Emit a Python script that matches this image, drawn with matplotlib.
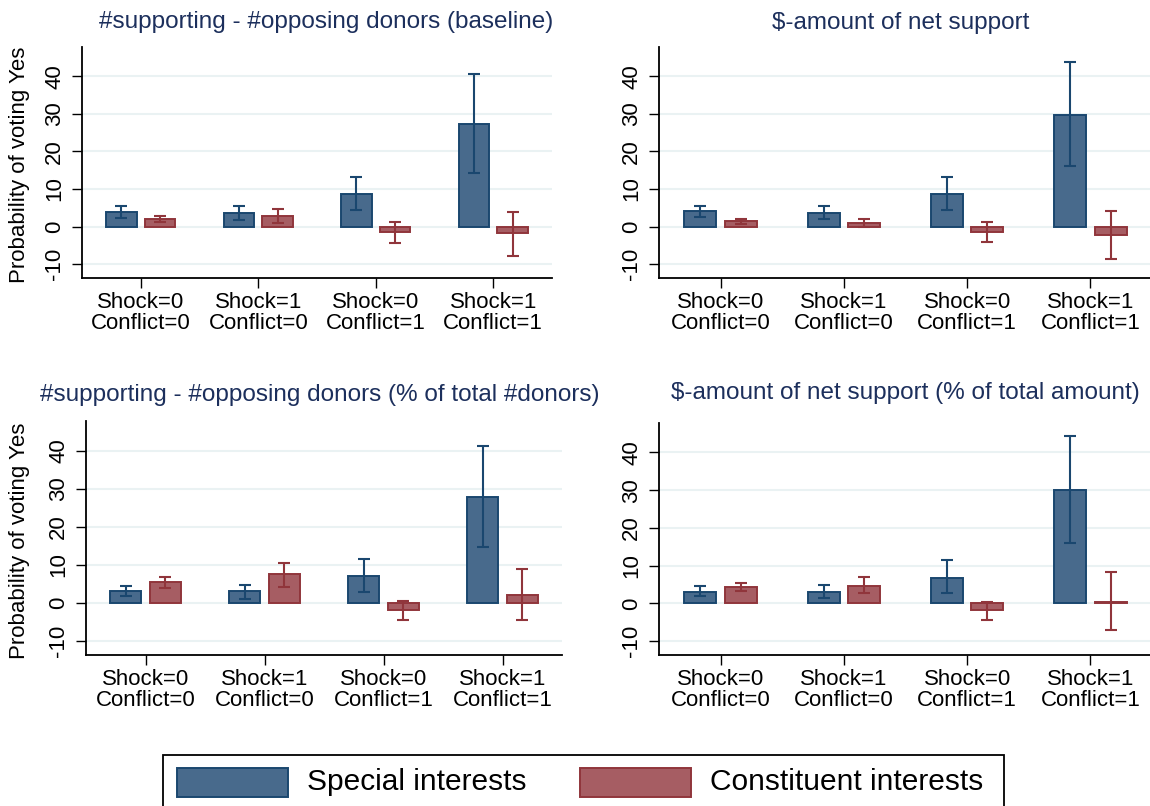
import matplotlib
matplotlib.use("Agg")
import matplotlib.pyplot as plt
from matplotlib.patches import Rectangle
import numpy as np

plt.rcParams['font.family'] = ['Liberation Sans', 'DejaVu Sans']

categories = ["Shock=0\nConflict=0", "Shock=1\nConflict=0", "Shock=0\nConflict=1", "Shock=1\nConflict=1"]
titles = ["#supporting - #opposing donors (baseline)",
          "$-amount of net support",
          "#supporting - #opposing donors (% of total #donors)",
          "$-amount of net support (% of total amount)"]
series_names = ["Special interests", "Constituent interests"]
yticks = [-10, 0, 10, 20, 30, 40]
ylabel = "Probability of voting Yes"

# Panel 1: baseline
special_1 = [3.8, 3.5, 8.6, 27.2]
special_1_lo = [2.3, 1.8, 4.3, 14.2]
special_1_hi = [5.5, 5.6, 13.1, 40.5]
constit_1 = [1.9, 2.7, -1.5, -1.6]
constit_1_lo = [1.1, 0.9, -4.5, -7.8]
constit_1_hi = [2.8, 4.8, 1.2, 3.9]

# Panel 2: $-amount of net support
special_2 = [4.1, 3.6, 8.6, 29.8]
special_2_lo = [2.5, 1.9, 4.3, 16.1]
special_2_hi = [5.6, 5.6, 13.1, 43.7]
constit_2 = [1.4, 0.9, -1.5, -2.3]
constit_2_lo = [0.7, -0.2, -4.1, -8.6]
constit_2_hi = [2.1, 2.0, 1.2, 4.2]

# Panel 3: % of total #donors
special_3 = [3.0, 3.0, 7.1, 27.9]
special_3_lo = [1.8, 1.1, 2.9, 14.6]
special_3_hi = [4.4, 4.6, 11.4, 41.3]
constit_3 = [5.4, 7.5, -2.0, 2.1]
constit_3_lo = [3.9, 4.3, -4.6, -4.5]
constit_3_hi = [6.75, 10.6, 0.5, 8.9]

# Panel 4: % of total amount
special_4 = [3.1, 3.1, 6.8, 30.0]
special_4_lo = [1.9, 1.5, 2.7, 16.1]
special_4_hi = [4.6, 4.9, 11.4, 44.3]
constit_4 = [4.2, 4.7, -1.9, 0.35]
constit_4_lo = [3.2, 2.7, -4.3, -7.0]
constit_4_hi = [5.4, 7.0, 0.3, 8.2]

panels = [
    (special_1, special_1_lo, special_1_hi, constit_1, constit_1_lo, constit_1_hi),
    (special_2, special_2_lo, special_2_hi, constit_2, constit_2_lo, constit_2_hi),
    (special_3, special_3_lo, special_3_hi, constit_3, constit_3_lo, constit_3_hi),
    (special_4, special_4_lo, special_4_hi, constit_4, constit_4_lo, constit_4_hi),
]

W, H = 1150, 806
fig = plt.figure(figsize=(W / 100, H / 100), dpi=100)

def fx(px):
    return px / W

def fy(py):
    return 1 - py / H

# axes boxes in pixels: left, right, top, bottom
boxes = [(82, 552, 47, 278), (659, 1152, 47, 278), (86, 562, 421, 655), (659, 1152, 423, 655)]
title_pos = [(326, 22), (901, 23), (320, 395), (905, 393)]

blue_fill = '#486a8c'
blue_edge = '#1a476f'
red_fill = '#a65d63'
red_edge = '#90353b'
grid_col = '#eaf2f3'
title_col = '#1c2f5c'

x = np.arange(len(categories)) + 0.5
off = 0.165
bw = 0.26

for i, (box, data) in enumerate(zip(boxes, panels)):
    l, r, t, b = box
    ax = fig.add_axes([fx(l), fy(b), (r - l) / W, (b - t) / H])
    sp, splo, sphi, cn, cnlo, cnhi = [np.array(v, dtype=float) for v in data]
    ax.bar(x - off, sp, bw, color=blue_fill, edgecolor=blue_edge, linewidth=1.4, zorder=2)
    ax.bar(x + off, cn, bw, color=red_fill, edgecolor=red_edge, linewidth=1.4, zorder=2)
    ax.errorbar(x - off, sp, yerr=[sp - splo, sphi - sp], fmt='none', ecolor=blue_edge,
                elinewidth=1.5, capsize=4.5, capthick=1.5, zorder=3)
    ax.errorbar(x + off, cn, yerr=[cn - cnlo, cnhi - cn], fmt='none', ecolor=red_edge,
                elinewidth=1.5, capsize=4.5, capthick=1.5, zorder=3)
    ax.set_xlim(0, 4)
    ax.set_ylim(-13.7, 47.8)
    ax.set_yticks(yticks)
    ax.set_yticklabels([str(v) for v in yticks], rotation=90, va='center', fontsize=16)
    ax.set_xticks(x)
    ax.set_xticklabels(categories, fontsize=16, linespacing=1.0)
    ax.tick_params(axis='y', length=7, width=1.0, pad=5)
    ax.tick_params(axis='x', length=7, width=1.0, pad=3)
    ax.yaxis.grid(True, color=grid_col, linewidth=1.5, zorder=0)
    ax.set_axisbelow(True)
    for s in ['top', 'right']:
        ax.spines[s].set_visible(False)
    for s in ['left', 'bottom']:
        ax.spines[s].set_linewidth(1.3)
        ax.spines[s].set_color('black')
    tx, ty = title_pos[i]
    fig.text(fx(tx), fy(ty), titles[i], ha='center', va='center', fontsize=17.5, color=title_col)

fig.text(fx(20), fy(165), ylabel, rotation=90, ha='center', va='center', fontsize=16)
fig.text(fx(20), fy(541), ylabel, rotation=90, ha='center', va='center', fontsize=16)

# legend
fig.patches.append(Rectangle((fx(163), fy(812)), (1004 - 163) / W, (812 - 755) / H,
                             transform=fig.transFigure, fill=False, edgecolor='black', linewidth=1.3))
fig.patches.append(Rectangle((fx(177), fy(797)), 111 / W, 29 / H, transform=fig.transFigure,
                             facecolor=blue_fill, edgecolor=blue_edge, linewidth=1.4))
fig.patches.append(Rectangle((fx(580), fy(797)), 111 / W, 29 / H, transform=fig.transFigure,
                             facecolor=red_fill, edgecolor=red_edge, linewidth=1.4))
fig.text(fx(307), fy(782), series_names[0], ha='left', va='center', fontsize=21.5)
fig.text(fx(710), fy(782), series_names[1], ha='left', va='center', fontsize=21.5)

fig.savefig('out.png', dpi=100)
